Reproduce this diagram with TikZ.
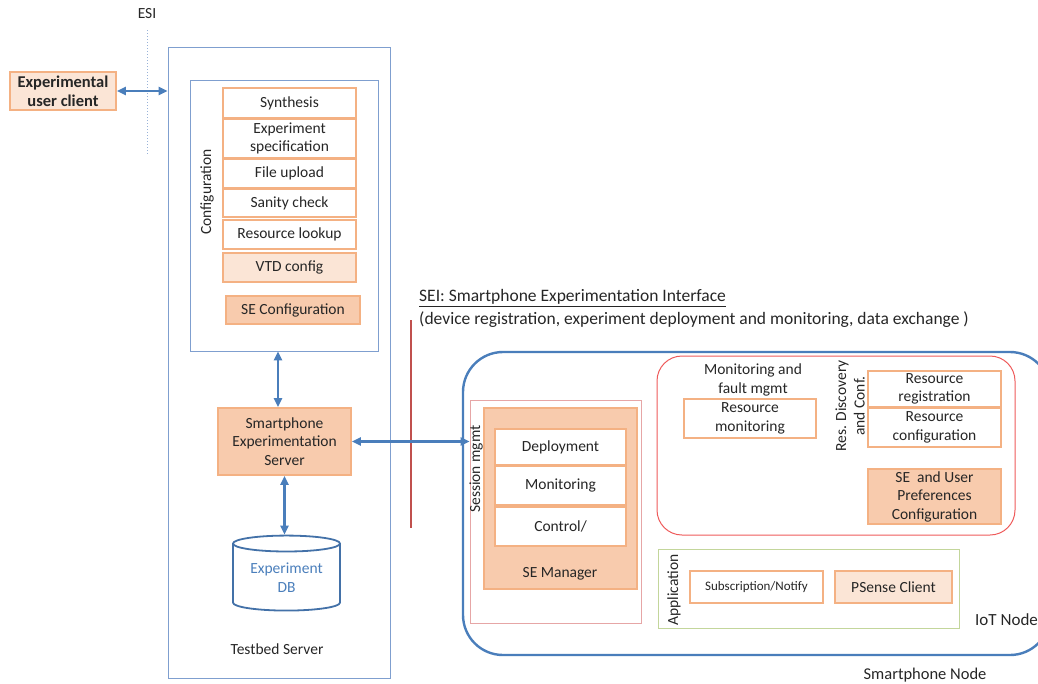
\documentclass[tikz,border=0pt]{standalone}
\usepackage{fontspec}
\setmainfont{Carlito}
\usetikzlibrary{shapes.geometric,arrows.meta}
\definecolor{orB}{HTML}{F4B183}
\definecolor{peach}{HTML}{F8CBAD}
\definecolor{lpeach}{HTML}{FBE5D6}
\definecolor{bl}{HTML}{4A7EBB}
\definecolor{bbox}{HTML}{7F9FCF}
\definecolor{sei}{HTML}{C0504D}
\definecolor{pinkb}{HTML}{E6A6A6}
\definecolor{redb}{HTML}{EE5A5A}
\definecolor{grn}{HTML}{C3D69B}
\definecolor{txt}{HTML}{262626}
\begin{document}
\begin{tikzpicture}[x=1pt,y=-1pt,
  font=\fontsize{15.5}{18.5}\selectfont, text=txt,
  ob/.style={draw=orB, line width=1.6pt, fill=white, inner sep=0pt, align=center},
  obl/.style={ob, fill=lpeach},
  obp/.style={ob, fill=peach},
  frame/.style={draw=bbox, line width=0.9pt, inner sep=0pt},
  arr/.style={{Triangle[length=9pt,width=8pt]}-{Triangle[length=9pt,width=8pt]}, draw=bl, line width=2.4pt},
  vlab/.style={rotate=90, inner sep=0pt, align=center},
  lab/.style={inner sep=0pt, align=center}
]
\useasboundingbox (0,0) rectangle (1038,683);

% ESI
\node[lab] (esi) at (147,14) {ESI};
\coordinate (esiT) at (147,30);
\coordinate (esiB) at (147,155);
\draw[bbox!80, dotted, line width=1pt] (esiT) -- (esiB);

\node[obl, font=\fontsize{16.5}{19}\selectfont\bfseries, minimum width=106pt, minimum height=38pt] (eu) at (63,91) {Experimental\\user client};

% Testbed server
\node[frame, minimum width=222pt, minimum height=631pt] (ts) at (279,362.5) {};
\node[frame, minimum width=188pt, minimum height=271pt] (cf) at (284,215.5) {};
\node[vlab] (cfl) at (207,192) {Configuration};

\node[ob, minimum width=133pt, minimum height=30pt] (syn) at (289.5,103) {Synthesis};
\node[ob, minimum width=133pt, minimum height=39pt] (spec) at (289.5,138.5) {Experiment\\specification};
\node[ob, minimum width=133pt, minimum height=29pt] (fu) at (289.5,173.5) {File upload};
\node[ob, minimum width=133pt, minimum height=28pt] (sc) at (289.5,203) {Sanity check};
\node[ob, minimum width=133pt, minimum height=29pt] (rl) at (289.5,234.5) {Resource lookup};
\node[obl, minimum width=133pt, minimum height=29pt] (vtd) at (289.5,267.5) {VTD config};
\node[obp, minimum width=134pt, minimum height=28pt] (sec) at (293,310) {SE Configuration};

\node[obp, minimum width=133pt, minimum height=67pt] (ses) at (284.5,441.5) {Smartphone\\Experimentation\\Server};

\node[cylinder, shape border rotate=90, draw=bl!90!black, line width=1.8pt, aspect=0.22,
  minimum width=107pt, minimum height=75pt, inner sep=0pt, align=center, text=bl] (db) at (286.5,577.5) {Experiment\\DB};
\node[lab] (tsl) at (277,649) {Testbed Server};

\draw[arr] (eu.east) -- (eu.east -| ts.west);
\draw[arr] ([xshift=-6.5pt]ses.north |- cf.south) -- ([xshift=-6.5pt]ses.north);
\draw[arr] (ses.south) -- (ses.south |- db.north);

% SEI
\coordinate (seiT) at (411,320);
\coordinate (seiB) at (411,528);
\draw[sei, line width=2.5pt] (seiT) -- (seiB);
\node[lab, anchor=west, font=\fontsize{17.5}{20}\selectfont] (sei1) at (419,298) {\underline{SEI: Smartphone Experimentation Interface}};
\node[lab, anchor=west, font=\fontsize{17.5}{20}\selectfont] (sei2) at (419,320) {(device registration, experiment deployment and monitoring, data exchange )};

% Smartphone node
\node[draw=bl, line width=2.4pt, rounded corners=40pt, minimum width=587pt, minimum height=303pt, inner sep=0pt] (sp) at (756.5,503.5) {};
\node[lab, anchor=west, font=\fontsize{17}{20}\selectfont] (iot) at (975,620) {IoT Node};
\node[lab, font=\fontsize{16.5}{20}\selectfont] (spl) at (925,675) {Smartphone Node};

% Session mgmt
\node[draw=pinkb, line width=0.9pt, minimum width=171pt, minimum height=223pt, inner sep=0pt] (sm) at (555.5,511.5) {};
\node[vlab] (sml) at (476,469) {Session mgmt};
\node[obp, minimum width=153pt, minimum height=181pt] (sem) at (560.5,498.5) {};
\node[ob, minimum width=131pt, minimum height=36pt] (dep) at (560.5,447) {Deployment};
\node[ob, minimum width=131pt, minimum height=39pt] (mon) at (560.5,485.5) {Monitoring};
\node[ob, minimum width=131pt, minimum height=39pt] (ctl) at (560.5,526.5) {Control/};
\node[lab] (seml) at (560,574) {SE Manager};

\draw[arr] (ses.east) -- (ses.east -| sm.west);

% red box
\node[draw=redb, line width=1pt, rounded corners=25pt, minimum width=358pt, minimum height=179pt, inner sep=0pt] (rb) at (836,445.5) {};
\node[lab] (mfl) at (753,380) {Monitoring and\\fault mgmt};
\node[ob, minimum width=132pt, minimum height=39pt] (rmon) at (750,418.5) {Resource\\monitoring};
\node[vlab] (rdl) at (850,406) {Res. Discovery\\and Conf.};
\node[ob, minimum width=133pt, minimum height=36pt] (rreg) at (934.5,389) {Resource\\registration};
\node[ob, minimum width=133pt, minimum height=39pt] (rconf) at (934.5,427.5) {Resource\\configuration};
\node[obp, minimum width=133pt, minimum height=55pt] (seu) at (934.5,496.5) {SE~ and User\\Preferences\\Configuration};

% application
\node[draw=grn, line width=1pt, minimum width=301pt, minimum height=79pt, inner sep=0pt] (app) at (808.5,588.5) {};
\node[vlab] (appl) at (674,590) {Application};
\node[ob, font=\fontsize{13}{15}\selectfont, minimum width=133pt, minimum height=32pt] (subn) at (756.5,587) {Subscription/Notify};
\node[obl, minimum width=117pt, minimum height=32pt] (ps) at (893.5,587) {PSense Client};
\end{tikzpicture}
\end{document}
